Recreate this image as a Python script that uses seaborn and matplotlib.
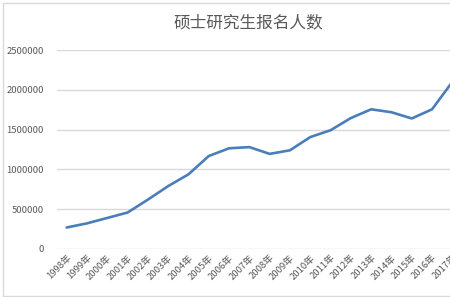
import matplotlib
matplotlib.use("Agg")
import matplotlib.pyplot as plt
import seaborn as sns
import pandas as pd
from matplotlib.patches import Rectangle

years = ["1998年", "1999年", "2000年", "2001年", "2002年", "2003年", "2004年",
         "2005年", "2006年", "2007年", "2008年", "2009年", "2010年", "2011年",
         "2012年", "2013年", "2014年", "2015年", "2016年", "2017年"]
applicants = [270000, 322000, 390000, 458000, 620000, 790000, 938000,
              1168000, 1265000, 1280000, 1195000, 1240000, 1406000, 1492000,
              1645000, 1755000, 1718000, 1640000, 1755000, 2100000]
yticks = [0, 500000, 1000000, 1500000, 2000000, 2500000]
title = "硕士研究生报名人数"

sns.set_theme(style="white")
plt.rcParams['font.family'] = ['Noto Sans CJK SC', 'DejaVu Sans']

W, H = 450, 297
fig = plt.figure(figsize=(W / 100, H / 100), dpi=100)
fig.patch.set_facecolor("white")

left, right = 56.5, 462.5
top, bottom = 50, 249
ax = fig.add_axes([left / W, 1 - bottom / H, (right - left) / W, (bottom - top) / H])

df = pd.DataFrame({"year": years, "n": applicants})
sns.lineplot(data=df, x="year", y="n", ax=ax, color="#4A7EBB", linewidth=1.9, sort=False)

ax.set_xlim(-0.5, len(years) - 0.5)
ax.set_ylim(0, 2500000)
ax.set_yticks(yticks)
ax.set_yticklabels([str(v) for v in yticks])
ax.set_xticks(range(len(years)))
ax.set_xticklabels(years, rotation=45, ha="right", rotation_mode="anchor")
ax.tick_params(axis="both", length=0, labelsize=6.8, colors="#595959")
ax.tick_params(axis="y", pad=9)
ax.tick_params(axis="x", pad=3)
ax.set_xlabel("")
ax.set_ylabel("")
ax.grid(axis="y", color="#D9D9D9", linewidth=1.0)
ax.set_axisbelow(True)
for s in ax.spines.values():
    s.set_visible(False)

fig.text(248 / W, 1 - 23 / H, title, ha="center", va="center",
         fontsize=12, color="#595959")

fig.patches.append(Rectangle((2.5 / W, 1.5 / H), 1.2, 1 - 4 / H,
                             transform=fig.transFigure, fill=False,
                             edgecolor="#D9D9D9", linewidth=1.0))

fig.savefig("out.png", dpi=100)
